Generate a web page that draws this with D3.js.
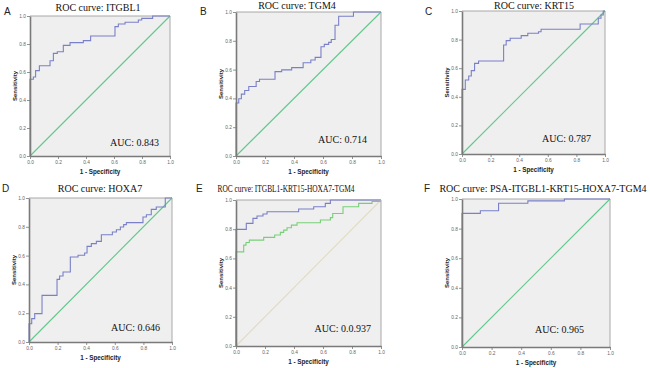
<!DOCTYPE html>
<html><head><meta charset="utf-8">
<script src="https://cdn.jsdelivr.net/npm/d3@7"></script>
<style>body{margin:0;background:#fff}svg{display:block}</style>
</head><body><svg id="c" width="650" height="368"></svg>
<script>
// ---------- data ----------
const panelLetters = ["A", "B", "C", "D", "E", "F"];
const titles = ["ROC curve: ITGBL1", "ROC curve: TGM4", "ROC curve: KRT15", "ROC curve: HOXA7",
  "ROC curve: ITGBL1-KRT15-HOXA7-TGM4", "ROC curve: PSA-ITGBL1-KRT15-HOXA7-TGM4"];
const aucLabels = ["AUC: 0.843", "AUC: 0.714", "AUC: 0.787", "AUC: 0.646", "AUC: 0.0.937", "AUC: 0.965"];
const tickValues = [0, 0.2, 0.4, 0.6, 0.8, 1.0];
const xAxisTitle = "1 - Specificity";
const yAxisTitle = "Sensitivity";

const itgbl1Fpr = [0, 0, 0.024, 0.04, 0.067, 0.143, 0.167, 0.195, 0.238, 0.286, 0.381, 0.433, 0.607, 0.631, 0.679, 0.774, 0.798, 0.876, 1.0];
const itgbl1Tpr = [0, 0.548, 0.564, 0.61, 0.645, 0.68, 0.733, 0.745, 0.79, 0.81, 0.824, 0.857, 0.924, 0.943, 0.955, 0.971, 0.983, 1.0, 1.0];

const tgm4Fpr = [0, 0, 0.019, 0.037, 0.06, 0.088, 0.139, 0.162, 0.269, 0.315, 0.384, 0.463, 0.516, 0.546, 0.586, 0.609, 0.639, 0.657, 0.683, 0.708, 0.81, 1.0];
const tgm4Tpr = [0, 0.368, 0.398, 0.43, 0.455, 0.483, 0.517, 0.533, 0.586, 0.598, 0.614, 0.648, 0.667, 0.685, 0.759, 0.775, 0.789, 0.809, 0.908, 0.97, 1.0, 1.0];

const krt15Fpr = [0, 0, 0.023, 0.047, 0.065, 0.088, 0.116, 0.291, 0.309, 0.337, 0.414, 0.46, 0.535, 0.553, 0.826, 0.953, 0.972, 0.988, 1.0];
const krt15Tpr = [0, 0.452, 0.517, 0.545, 0.583, 0.634, 0.65, 0.762, 0.793, 0.809, 0.828, 0.844, 0.855, 0.872, 0.909, 0.949, 0.972, 1.0, 1.0];

const hoxa7Fpr = [0, 0, 0.019, 0.04, 0.091, 0.196, 0.214, 0.238, 0.289, 0.343, 0.389, 0.406, 0.436, 0.471, 0.506, 0.583, 0.611, 0.639, 0.662, 0.681, 0.797, 0.821, 0.855, 0.89, 0.953, 1.0];
const hoxa7Tpr = [0, 0.127, 0.162, 0.197, 0.324, 0.435, 0.458, 0.486, 0.59, 0.602, 0.618, 0.664, 0.683, 0.699, 0.745, 0.764, 0.78, 0.799, 0.815, 0.829, 0.868, 0.884, 0.921, 0.938, 1.0, 1.0];

const comboBlueFpr = [0, 0, 0.071, 0.117, 0.145, 0.186, 0.214, 0.432, 0.536, 0.616, 0.651, 1.0];
const comboBlueTpr = [0, 0.799, 0.84, 0.874, 0.89, 0.904, 0.92, 0.938, 0.954, 0.977, 1.0, 1.0];
const comboGreenFpr = [0, 0, 0.053, 0.069, 0.092, 0.191, 0.267, 0.306, 0.329, 0.352, 0.382, 0.421, 0.582, 0.651, 0.667, 0.738, 0.846, 0.938, 1.0];
const comboGreenTpr = [0, 0.645, 0.691, 0.709, 0.725, 0.744, 0.76, 0.778, 0.794, 0.81, 0.828, 0.844, 0.863, 0.879, 0.908, 0.954, 0.977, 0.99, 0.99];

const psaComboFpr = [0, 0, 0.124, 0.247, 0.445, 0.692, 1.0];
const psaComboTpr = [0, 0.903, 0.921, 0.971, 0.987, 1.0, 1.0];

// ---------- layout & style ----------
const BLUE = "#7a80c8", GREEN = "#62c88c", GREEN2 = "#78cf78", BEIGE = "#e2dcc2";
const layout = [
  {box: [30, 170, 16, 156], title: [98, 11, 0], auc: [159, 146], letter: [4, 15]},
  {box: [236, 381, 12, 156], title: [297, 8.5, 0], auc: [367, 143], letter: [200, 15]},
  {box: [462, 605, 11, 154], title: [534, 8.5, 0], auc: [591, 142], letter: [425, 15]},
  {box: [29, 172, 198, 342], title: [100, 192, 0], auc: [160, 331], letter: [2, 192]},
  {box: [236, 381, 200, 346], title: [286, 192, 137], auc: [371, 332], letter: [196, 192]},
  {box: [462, 610, 199, 347], title: [543, 192, 0], auc: [584, 333], letter: [424, 192]}
];
const seriesByPanel = [
  {diag: GREEN, curves: [[itgbl1Fpr, itgbl1Tpr, BLUE]]},
  {diag: GREEN, curves: [[tgm4Fpr, tgm4Tpr, BLUE]]},
  {diag: GREEN, curves: [[krt15Fpr, krt15Tpr, BLUE]]},
  {diag: GREEN, curves: [[hoxa7Fpr, hoxa7Tpr, BLUE]]},
  {diag: BEIGE, curves: [[comboGreenFpr, comboGreenTpr, GREEN2], [comboBlueFpr, comboBlueTpr, BLUE]]},
  {diag: GREEN, curves: [[psaComboFpr, psaComboTpr, BLUE]]}
];

const svg = d3.select("#c");
const fmt = d3.format(".1f");

panelLetters.forEach((L, i) => {
  const lo = layout[i];
  const [x0, x1, y0, y1] = lo.box;
  const x = d3.scaleLinear().domain([0, 1]).range([x0, x1]);
  const y = d3.scaleLinear().domain([0, 1]).range([y1, y0]);
  const g = svg.append("g");

  g.append("rect").attr("x", x0).attr("y", y0).attr("width", x1 - x0).attr("height", y1 - y0)
    .attr("fill", "#efefef");
  g.append("path").attr("d", `M${x0},${y0}H${x1}V${y1}`).attr("fill", "none")
    .attr("stroke", "#a8a8a8").attr("stroke-width", 1);

  g.append("line").attr("x1", x(0)).attr("y1", y(0)).attr("x2", x(1)).attr("y2", y(1))
    .attr("stroke", seriesByPanel[i].diag).attr("stroke-width", 1.1);

  const line = d3.line().curve(d3.curveStepAfter).x(d => x(d[0])).y(d => y(d[1]));
  seriesByPanel[i].curves.forEach(([fx, ty, col]) => {
    const pts = fx.map((v, k) => [v, ty[k]]);
    g.append("path").attr("d", line(pts)).attr("fill", "none").attr("stroke", col).attr("stroke-width", 1.1);
  });

  const xa = g.append("g").attr("transform", `translate(0,${y1})`)
    .call(d3.axisBottom(x).tickValues(tickValues).tickFormat(fmt).tickSize(3).tickSizeOuter(0).tickPadding(1.5));
  const ya = g.append("g").attr("transform", `translate(${x0},0)`)
    .call(d3.axisLeft(y).tickValues(tickValues).tickFormat(fmt).tickSize(3).tickSizeOuter(0).tickPadding(1));
  [xa, ya].forEach(a => {
    a.select(".domain").attr("stroke", "#7a7a7a").attr("stroke-width", 1.6);
    a.selectAll(".tick line").attr("stroke", "#777").attr("stroke-width", 0.8);
    a.selectAll(".tick text").attr("fill", "#666").style("font-family", "Liberation Sans, Arial, sans-serif").style("font-size", "4.8px");
  });

  g.append("text").attr("x", (x0 + x1) / 2).attr("y", y1 + 17.5).attr("text-anchor", "middle")
    .style("font-family", "Liberation Sans, Arial, sans-serif").style("font-size", "6.3px").style("font-weight", "bold")
    .attr("fill", "#222").text(xAxisTitle);
  g.append("text").attr("transform", `translate(${x0 - 13.5},${(y0 + y1) / 2}) rotate(-90)`).attr("text-anchor", "middle")
    .style("font-family", "Liberation Sans, Arial, sans-serif").style("font-size", "6px").style("font-weight", "bold")
    .attr("fill", "#222").text(yAxisTitle);

  const t = g.append("text").attr("x", lo.title[0]).attr("y", lo.title[1]).attr("text-anchor", "middle")
    .style("font-family", "Liberation Serif, Times New Roman, serif").style("font-size", "10px")
    .attr("fill", "#111").text(titles[i]);
  if (lo.title[2]) t.attr("textLength", lo.title[2]).attr("lengthAdjust", "spacingAndGlyphs");

  g.append("text").attr("x", lo.auc[0]).attr("y", lo.auc[1]).attr("text-anchor", "end")
    .style("font-family", "Liberation Serif, Times New Roman, serif").style("font-size", "10px")
    .attr("fill", "#111").text(aucLabels[i]);

  g.append("text").attr("x", lo.letter[0]).attr("y", lo.letter[1])
    .style("font-family", "Liberation Sans, Arial, sans-serif").style("font-size", "10px")
    .attr("fill", "#222").text(L);
});
</script></body></html>
